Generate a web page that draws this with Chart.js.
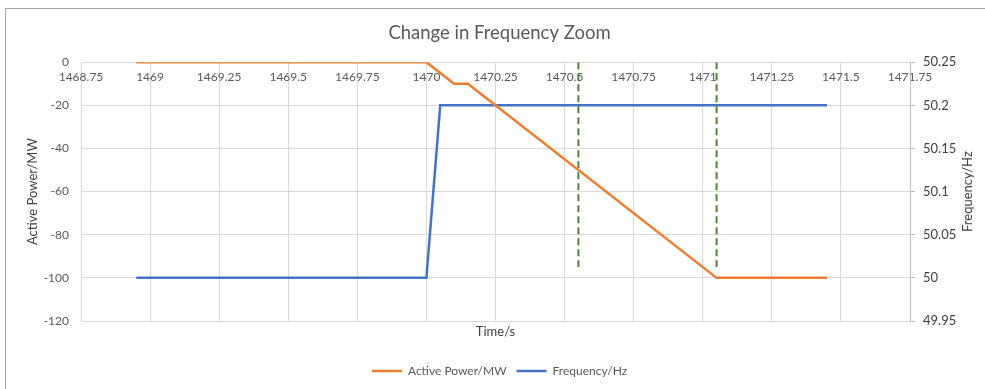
<!DOCTYPE html>
<html lang="en">
  <head>
    <meta charset="UTF-8" />
    <title>Change in Frequency Zoom</title>
    <script src="https://cdn.jsdelivr.net/npm/chart.js@4.4.0/dist/chart.umd.min.js"></script>
    <style>
      body {
        margin: 0;
        background: #ffffff;
      }
      .contenedor {
        position: relative;
        width: 985px;
        height: 389px;
        overflow: hidden;
      }
      .marco {
        position: absolute;
        left: 5px;
        top: 8px;
        width: 1000px;
        height: 400px;
        border: 1px solid #a6a6a6;
        pointer-events: none;
      }
    </style>
  </head>

  <body>
    <div class="contenedor">
      <canvas id="grafico"></canvas>
      <div class="marco"></div>
    </div>
  </body>
  <script>
    // values
    var powerTime = [1468.95, 1470.0, 1470.1, 1470.15, 1471.05, 1471.45];
    var powerMW = [0, 0, -10, -10, -100, -100];
    var freqTime = [1468.95, 1470.0, 1470.05, 1471.45];
    var freqHz = [50, 50, 50.2, 50.2];
    var markerTimes = [1470.55, 1471.05];
    var markerPower = [0, -95];

    var titulo = "Change in Frequency Zoom";
    var xTitle = "Time/s";
    var yTitle = "Active Power/MW";
    var y2Title = "Frequency/Hz";

    var fuente = "Lato, 'Liberation Sans', sans-serif";
    var gris = "#595959";
    var grid = "#d9d9d9";

    function puntos(xs, ys) {
      return xs.map(function (x, i) {
        return { x: x, y: ys[i] };
      });
    }
    function corto(v) {
      return String(Math.round(v * 100) / 100);
    }

    var datasets = [
      {
        label: "Active Power/MW",
        data: puntos(powerTime, powerMW),
        borderColor: "#ED7D31",
        backgroundColor: "#ED7D31",
        borderWidth: 2.5,
        yAxisID: "y",
        order: 0,
      },
      {
        label: "Frequency/Hz",
        data: puntos(freqTime, freqHz),
        borderColor: "#4472C4",
        backgroundColor: "#4472C4",
        borderWidth: 2.5,
        yAxisID: "y2",
        order: 2,
      },
    ];
    markerTimes.forEach(function (t) {
      datasets.push({
        label: "marker",
        data: puntos([t, t], markerPower),
        borderColor: "#548235",
        borderWidth: 2,
        borderDash: [7, 4],
        yAxisID: "y",
        order: 1,
      });
    });

    var tituloDerecho = {
      id: "tituloDerecho",
      afterDraw(chart) {
        const ctx = chart.ctx;
        const area = chart.chartArea;
        ctx.save();
        ctx.translate(chart.scales.y2.right - 17, (area.top + area.bottom) / 2);
        ctx.rotate(-Math.PI / 2);
        ctx.font = "13px " + fuente;
        ctx.fillStyle = "#404040";
        ctx.textAlign = "center";
        ctx.textBaseline = "middle";
        ctx.fillText(y2Title, 0, 0);
        ctx.restore();
      },
    };

    new Chart(document.getElementById("grafico"), {
      type: "line",
      data: { datasets: datasets },
      options: {
        responsive: true,
        maintainAspectRatio: false,
        animation: false,
        parsing: false,
        elements: {
          point: { radius: 0, hoverRadius: 0 },
          line: { tension: 0 },
        },
        layout: { padding: { left: 14, right: 0, top: 8, bottom: 2 } },
        plugins: {
          title: {
            display: true,
            text: titulo,
            color: gris,
            font: { family: fuente, size: 18.5, weight: "normal" },
            padding: { top: 14, bottom: 18 },
          },
          legend: {
            position: "bottom",
            labels: {
              usePointStyle: true,
              pointStyle: "line",
              pointStyleWidth: 30,
              color: gris,
              font: { family: fuente, size: 12 },
              padding: 10,
              filter: function (item) {
                return item.datasetIndex < 2;
              },
            },
          },
          tooltip: { enabled: false },
        },
        scales: {
          x: {
            type: "linear",
            position: { y: 0 },
            min: 1468.75,
            max: 1471.75,
            ticks: {
              stepSize: 0.25,
              color: gris,
              font: { family: fuente, size: 12 },
              padding: 8,
              maxRotation: 0,
              autoSkip: false,
              callback: corto,
            },
            grid: { color: grid, drawTicks: false },
            border: { color: grid },
          },
          x2: {
            type: "linear",
            axis: "x",
            position: "bottom",
            ticks: { display: false },
            grid: { display: false, drawTicks: false },
            border: { display: false },
            title: {
              display: true,
              text: xTitle,
              color: "#404040",
              font: { family: fuente, size: 13 },
              padding: { top: 4, bottom: 15 },
            },
            afterFit: function (s) {
              s.height = 34;
            },
          },
          y: {
            position: "left",
            min: -120,
            max: 0,
            ticks: {
              stepSize: 20,
              color: gris,
              font: { family: fuente, size: 12 },
              padding: 12,
            },
            grid: { color: grid, drawTicks: false },
            border: { display: false },
            title: {
              display: true,
              text: yTitle,
              color: "#404040",
              font: { family: fuente, size: 13 },
              padding: { top: 11, bottom: 0 },
            },
            afterFit: function (s) {
              s.width = 67;
            },
          },
          y2: {
            position: "right",
            min: 49.95,
            max: 50.25,
            ticks: {
              stepSize: 0.05,
              color: "#404040",
              font: { family: fuente, size: 13 },
              padding: 8,
              callback: corto,
            },
            grid: {
              drawOnChartArea: false,
              color: "#bfbfbf",
              tickLength: 5,
            },
            border: { color: "#bfbfbf" },
            afterFit: function (s) {
              s.width = 75;
            },
          },
        },
      },
      plugins: [tituloDerecho],
    });
  </script>
</html>
